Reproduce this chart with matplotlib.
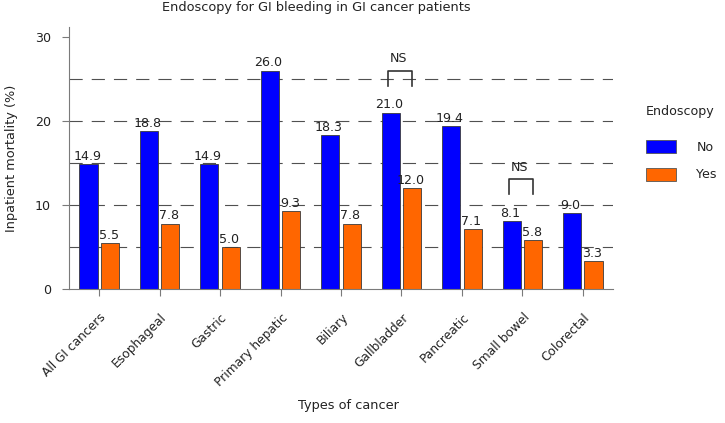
import numpy as np
import matplotlib
matplotlib.use('Agg')
import matplotlib.pyplot as plt
from matplotlib.patches import Patch

# data
cancers = ['All GI cancers', 'Esophageal', 'Gastric', 'Primary hepatic', 'Biliary',
           'Gallbladder', 'Pancreatic', 'Small bowel', 'Colorectal']
mort_no = [14.9, 18.8, 14.9, 26.0, 18.3, 21.0, 19.4, 8.1, 9.0]
mort_yes = [5.5, 7.8, 5.0, 9.3, 7.8, 12.0, 7.1, 5.8, 3.3]
series_names = ['No', 'Yes']
ns_groups = ['Gallbladder', 'Small bowel']

plt.rcParams['font.family'] = 'DejaVu Sans'
plt.rcParams['font.size'] = 8.8
plt.rcParams['lines.scale_dashes'] = False
txt_color = '#222222'
axis_color = '#7a7a7a'
blue = '#0000ff'
orange = '#ff6600'

fig = plt.figure(figsize=(7.25, 4.23), dpi=100)
ax = fig.add_axes([69/725, 1-289/423, (613-69)/725, (289-27)/423])

x = np.arange(len(cancers))
w = 0.30
off = 0.177

# dashed reference lines behind the bars
for lvl in np.arange(5, 30, 5):
    ax.axhline(lvl, color='#505050', lw=0.8, dashes=(9.5, 6.5), zorder=0)

b1 = ax.bar(x - off, mort_no, w, color=blue, edgecolor='#3a3a3a', linewidth=0.6, zorder=2)
b2 = ax.bar(x + off, mort_yes, w, color=orange, edgecolor='#3a3a3a', linewidth=0.6, zorder=2)

for bars, vals in [(b1, mort_no), (b2, mort_yes)]:
    for r, v in zip(bars, vals):
        ax.annotate('%.1f' % v, (r.get_x() + r.get_width()/2, v), xytext=(-1, 3),
                    textcoords='offset points', ha='center', va='baseline',
                    color=txt_color, fontsize=9.1, zorder=3)

# NS brackets
for g in ns_groups:
    i = cancers.index(g)
    top = max(mort_no[i], mort_yes[i]) + 5.0
    x0, x1 = i - off - 0.04, i + off
    ax.plot([x0, x0, x1, x1], [top - 1.8, top, top, top - 1.8], color='#333333', lw=1.2, zorder=3)
    ax.text((x0 + x1)/2 - 0.03, top + 1.4, 'NS', ha='center', va='center', color=txt_color,
            fontsize=9.1, zorder=3)

ax.set_xlim(-0.5, 8.5)
ax.set_ylim(0, 31.2)
ax.set_yticks([0, 10, 20, 30])
ax.set_xticks(x)
ax.set_xticklabels([])
# category names, rotated and pushed a bit below the ticks
for i, name in enumerate(cancers):
    ax.annotate(name, (i, 0), xycoords=('data', 'axes fraction'), xytext=(0.3, -15.8),
                textcoords='offset points', rotation=45, ha='right', va='top',
                rotation_mode='anchor', color=txt_color, fontsize=8.8)

ax.tick_params(axis='both', direction='out', length=5, width=0.8, color=axis_color,
               labelcolor=txt_color, labelsize=8.8)
ax.tick_params(axis='y', pad=8, labelsize=9.1)
for s in ['top', 'right']:
    ax.spines[s].set_visible(False)
for s in ['left', 'bottom']:
    ax.spines[s].set_color(axis_color)
    ax.spines[s].set_linewidth(0.8)

ax.set_ylabel('Inpatient mortality (%)', color=txt_color, fontsize=9.3)
ax.yaxis.set_label_coords(-0.094, 0.5)
fig.text(348/725, 1-405/423, 'Types of cancer', ha='center', va='center', color=txt_color,
         fontsize=9.3)
fig.text(316/725, 1-8/423, 'Endoscopy for GI bleeding in GI cancer patients',
         ha='center', va='center', color=txt_color, fontsize=9.3)

# legend
fig.text(680/725, 1-112/423, 'Endoscopy', ha='center', va='center', color=txt_color, fontsize=9.1)
handles = [Patch(facecolor=blue, edgecolor='#555555', linewidth=0.6),
           Patch(facecolor=orange, edgecolor='#555555', linewidth=0.6)]
fig.legend(handles, series_names, loc='upper left', bbox_to_anchor=(646/725, 1-140/423),
           frameon=False, borderpad=0, borderaxespad=0, handlelength=2.38, handleheight=1.2,
           handletextpad=1.6, labelspacing=1.1, fontsize=9.1, labelcolor=txt_color)

fig.savefig('out.png', dpi=100)
